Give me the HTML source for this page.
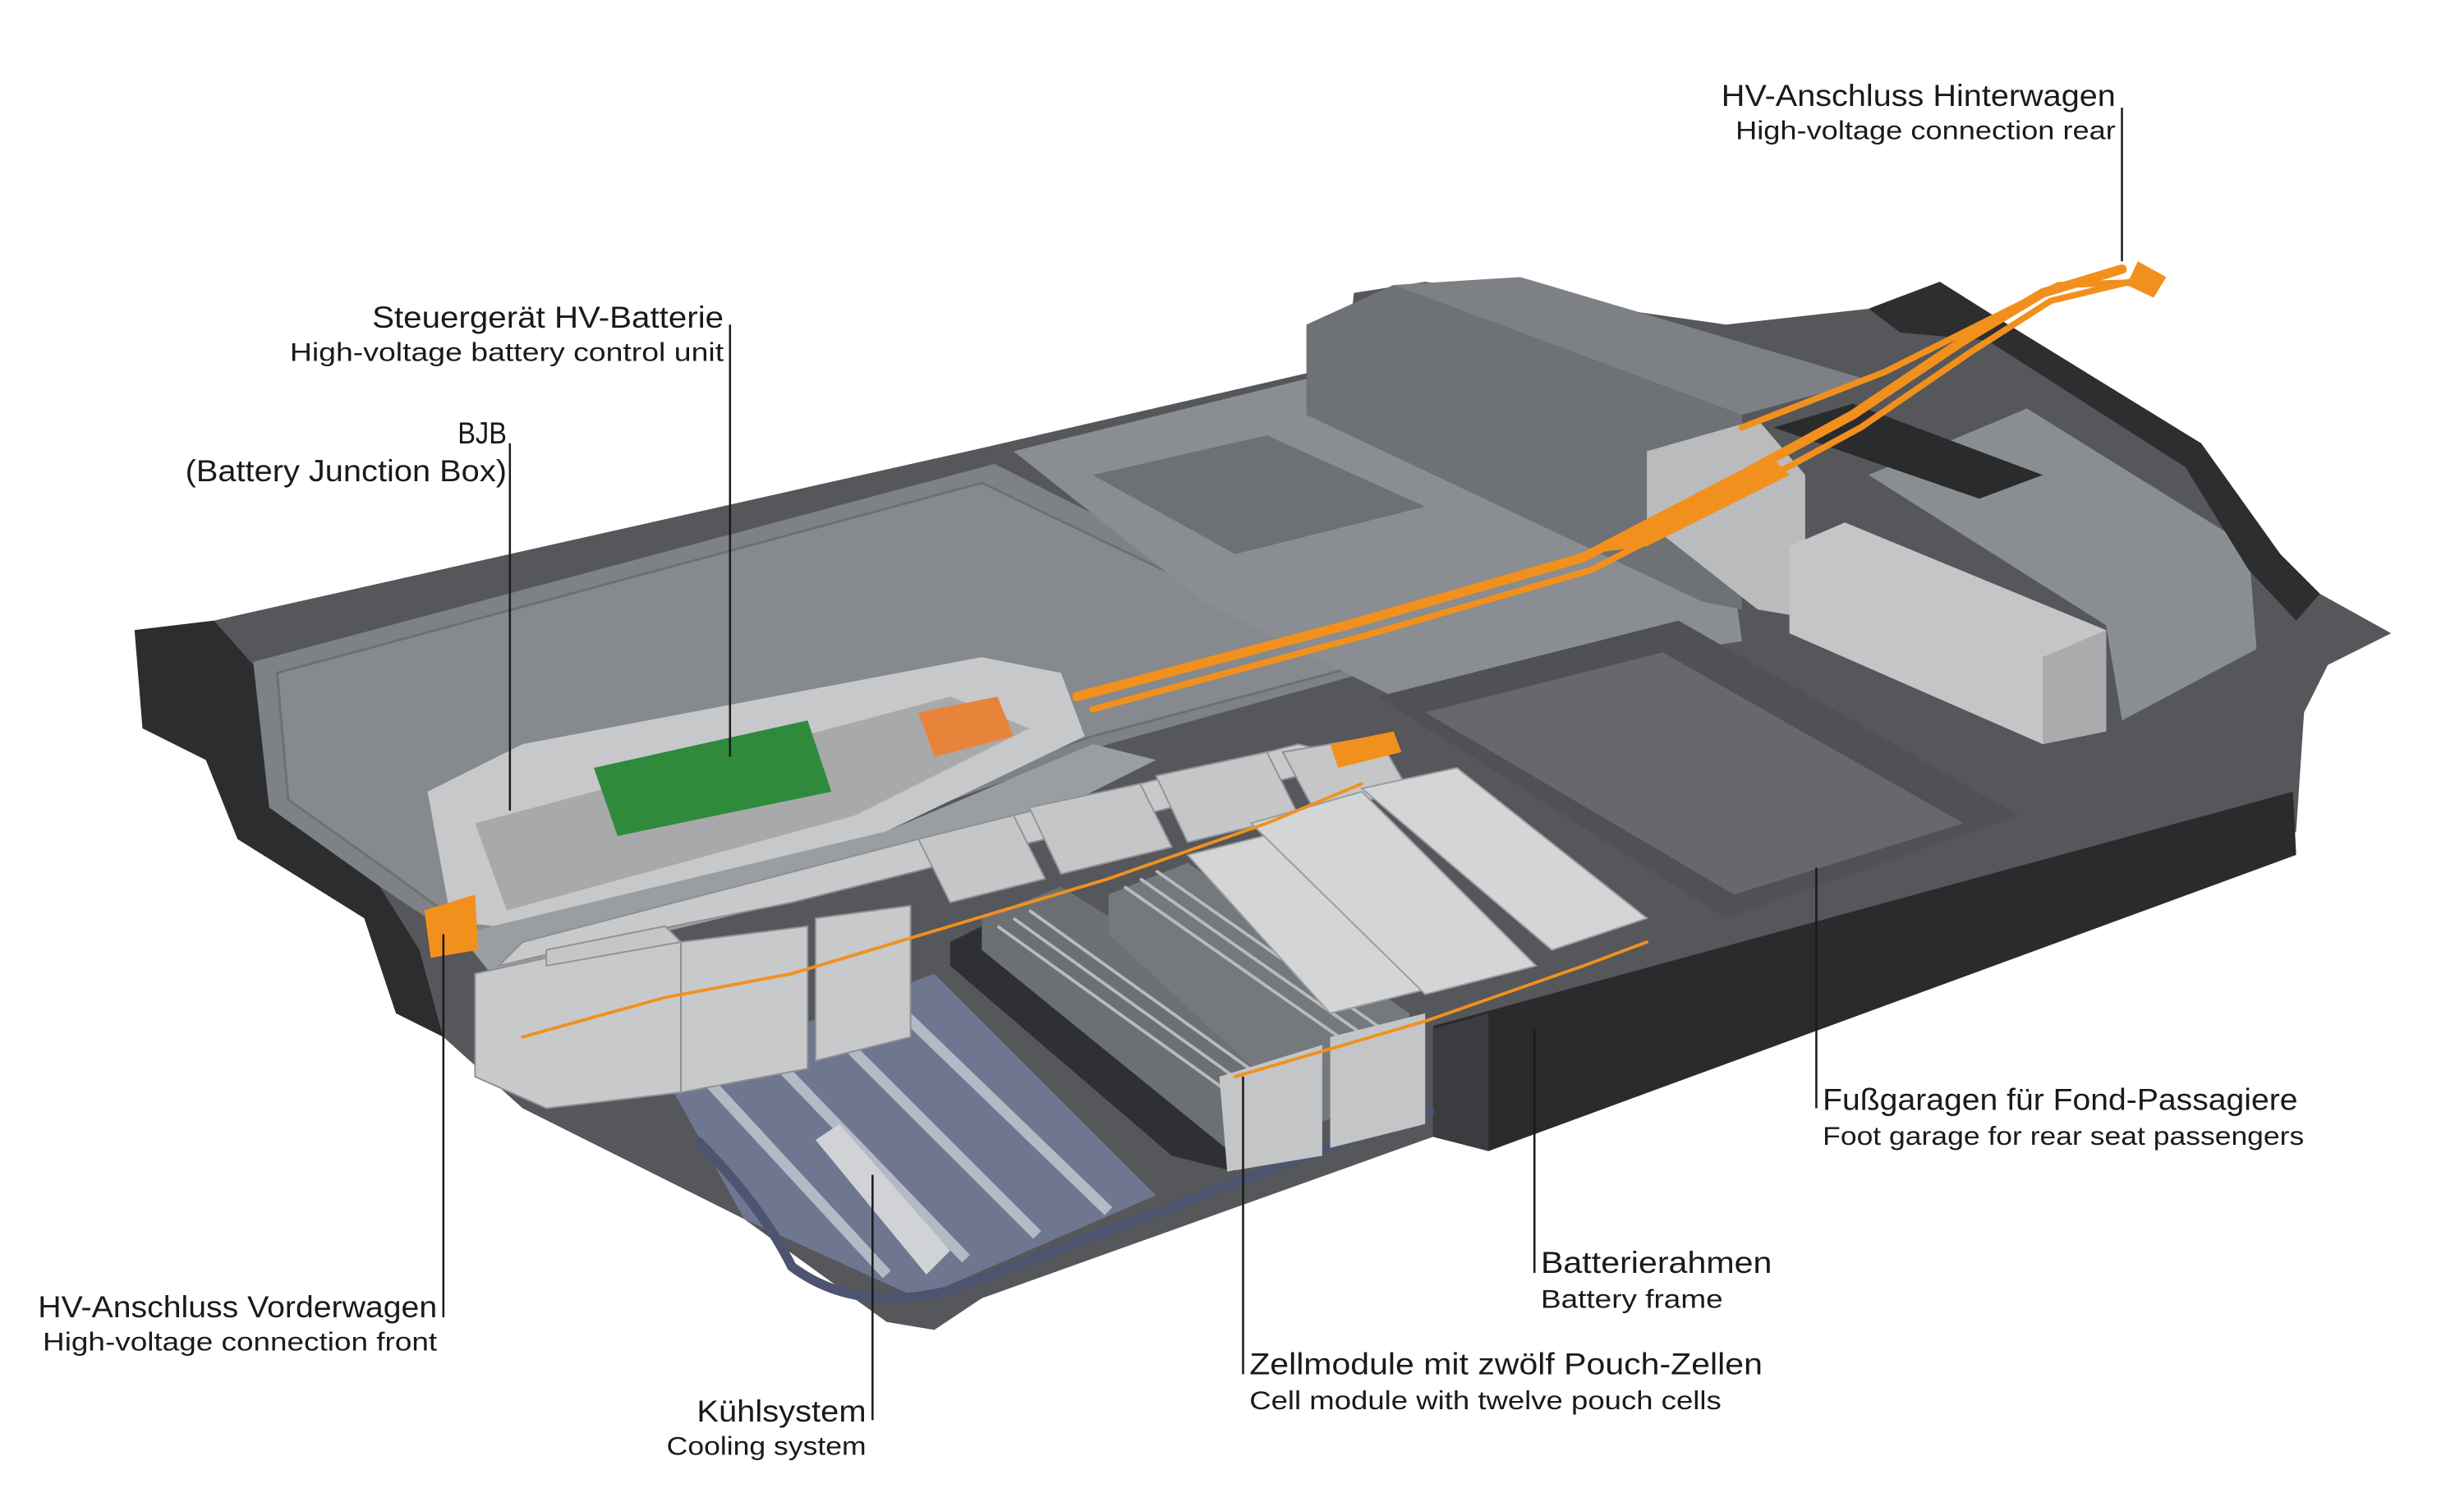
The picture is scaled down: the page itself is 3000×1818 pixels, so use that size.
<!DOCTYPE html>
<html><head><meta charset="utf-8"><style>
html,body{margin:0;padding:0;background:#fff;}
svg{display:block;}
text{font-family:"Liberation Sans",sans-serif;fill:#1a1a1a;}
.de{font-size:19px;}
.en{font-size:16.5px;}
</style></head><body>
<svg width="3000" height="1818" viewBox="0 0 1556 943" preserveAspectRatio="none" xmlns="http://www.w3.org/2000/svg">
<rect width="1556" height="943" fill="#fff"/>
<!-- outer tray -->
<path d="M85,398 L135,392 L620,283 L850,230 L855,185 L900,178 L1090,205 L1180,195 L1225,178 L1260,200 L1390,280 L1440,350 L1465,375 L1510,400 L1470,420 L1455,450 L1450,525 L1440,540 L940,727 L905,718 L620,820 L590,840 L560,835 L470,770 L330,700 L280,655 L265,600 L240,560 L160,520 L130,480 L90,460 Z" fill="#55575a"/>
<!-- left end frame -->
<path d="M85,398 L135,392 L160,420 L170,510 L240,560 L265,600 L280,655 L250,640 L230,580 L150,530 L130,480 L90,460 Z" fill="#2c2d2f"/>
<!-- lid plate -->
<path d="M160,418 L628,293 L880,420 L700,470 L560,520 L300,600 L240,560 L170,510 Z" fill="#7e8185"/>
<path d="M175,425 L620,305 L860,420 L690,465 L550,512 L300,590 L248,552 L182,505 Z" fill="#86898d" stroke="#6c6f73" stroke-width="1.5"/>
<!-- middle tunnel region -->
<path d="M640,285 L830,238 L1090,330 L1100,405 L880,440 L760,380 Z" fill="#8a8d91"/>
<path d="M690,300 L800,275 L900,320 L780,350 Z" fill="#6d7074"/>
<!-- foot garage -->
<path d="M870,440 L1060,392 L1275,515 L1090,580 Z" fill="#4f5154"/>
<path d="M900,450 L1050,412 L1240,520 L1095,565 Z" fill="#66686b"/>
<!-- rear raised tunnel -->
<path d="M825,205 L880,180 L1100,262 L1100,385 L1075,380 L825,262 Z" fill="#6e7175"/>
<path d="M880,180 L1100,262 L1180,240 L960,175 Z" fill="#7d8084"/>
<!-- rear right region -->
<path d="M1180,300 L1280,258 L1420,345 L1425,410 L1340,455 L1330,395 Z" fill="#8b8e91"/>
<!-- rear frame -->
<path d="M1180,195 L1225,178 L1260,200 L1390,280 L1440,350 L1465,375 L1450,392 L1420,360 L1380,295 L1255,215 L1200,210 Z" fill="#2d2e30"/>
<!-- rear modules -->
<path d="M1040,285 L1110,265 L1140,300 L1140,390 L1110,385 L1040,330 Z" fill="#b9bbbd"/>
<path d="M1130,345 L1165,330 L1330,398 L1330,462 L1290,470 L1130,400 Z" fill="#c3c5c7"/>
<path d="M1290,415 L1330,398 L1330,462 L1290,470 Z" fill="#a9abad"/>
<path d="M1120,270 L1170,255 L1290,300 L1250,315 Z" fill="#2a2b2d"/>
<!-- front frame band -->
<path d="M905,648 L1448,500 L1450,540 L940,727 L905,718 Z" fill="#2a2b2d"/>
<path d="M905,650 L940,640 L940,727 L905,718 Z" fill="#3b3c3f"/>
<!-- cooling floor -->
<path d="M420,680 L590,615 L730,755 L580,820 L470,770 Z" fill="#6f7690"/>
<g stroke="#b4b9c6" stroke-width="7">
<line x1="440" y1="675" x2="560" y2="805"/>
<line x1="480" y1="660" x2="610" y2="795"/>
<line x1="520" y1="645" x2="655" y2="780"/>
<line x1="560" y1="630" x2="700" y2="765"/>
</g>
<path d="M530,710 L600,790 L585,805 L515,720 Z" fill="#d0d2d6"/>
<path d="M440,720 Q480,760 500,800 Q540,830 600,815 L905,700" stroke="#4d5470" stroke-width="6" fill="none"/>
<!-- control unit -->
<path d="M270,500 L330,470 L620,415 L670,425 L685,465 L560,525 L340,588 L285,582 Z" fill="#c6c8ca"/>
<path d="M300,520 L600,440 L650,460 L540,515 L320,575 Z" fill="#a7a9ab"/>
<path d="M375,485 L510,455 L525,500 L390,528 Z" fill="#2f8a3c"/>
<path d="M580,450 L630,440 L640,465 L590,478 Z" fill="#e8843a"/>
<path d="M290,590 L560,525 L690,470 L730,480 L600,545 L310,615 Z" fill="#9b9ea1"/>
<!-- front modules row -->
<g fill="#c7c9cb" stroke="#8d8f92" stroke-width="1">
<path d="M300,615 L345,605 L430,595 L430,690 L345,700 L300,680 Z"/>
<path d="M430,595 L510,585 L510,675 L430,690 Z"/>
<path d="M515,580 L575,572 L575,655 L515,670 Z"/>
<path d="M315,610 L400,590 L450,580 L500,570 L560,555 L620,540 L680,525 L740,510 L800,495 L860,480 L820,470 L580,530 L330,595 Z"/>
</g>
<g fill="#c4c6c8" stroke="#909295" stroke-width="1">
<path d="M345,600 L420,585 L430,595 L345,610 Z"/>
<path d="M580,530 L640,515 L660,555 L600,570 Z"/>
<path d="M650,510 L720,495 L740,535 L670,552 Z"/>
<path d="M730,490 L800,475 L820,515 L750,532 Z"/>
<path d="M810,475 L870,465 L890,500 L830,512 Z"/>
</g>
<!-- open cell modules -->
<path d="M600,595 L650,570 L780,710 L780,740 L740,730 L600,610 Z" fill="#2f3033"/>
<path d="M620,580 L670,560 L830,660 L830,715 L780,730 L620,600 Z" fill="#6d7073"/>
<path d="M700,565 L750,545 L890,640 L890,690 L830,710 L700,590 Z" fill="#76797c"/>
<g stroke="#b8babc" stroke-width="2">
<line x1="630" y1="585" x2="790" y2="700"/><line x1="640" y1="580" x2="800" y2="695"/>
<line x1="650" y1="575" x2="810" y2="690"/><line x1="710" y1="560" x2="860" y2="665"/>
<line x1="720" y1="555" x2="870" y2="660"/><line x1="730" y1="550" x2="880" y2="655"/>
</g>
<path d="M770,680 L835,660 L835,730 L775,740 Z" fill="#c3c5c7"/>
<path d="M840,655 L900,640 L900,710 L840,725 Z" fill="#c3c5c7"/>
<!-- right modules tops -->
<g fill="#d3d5d6" stroke="#9a9c9e" stroke-width="1">
<path d="M750,540 L830,520 L920,620 L840,640 Z"/>
<path d="M790,520 L860,500 L970,610 L900,628 Z"/>
<path d="M860,498 L920,485 L1040,580 L980,600 Z"/>
</g>
<!-- orange cables -->
<g stroke="#f2901e" fill="none" stroke-linecap="round">
<path d="M680,440 L850,395 L1000,352 L1100,300 L1170,262 L1240,215 L1290,185 L1340,170" stroke-width="6"/>
<path d="M690,448 L860,402 L1005,360 L1105,308 L1175,270 L1245,222 L1295,190 L1345,178" stroke-width="4"/>
<path d="M1100,270 L1190,235 L1300,180 L1360,178" stroke-width="4"/>
<path d="M330,655 L420,630 L500,615 L600,585 L700,555 L800,520 L860,495" stroke-width="2"/>
<path d="M780,680 L900,645 L1000,610 L1040,595" stroke-width="2"/>
</g>
<path d="M1000,350 L1040,345 L1130,300 L1120,290 Z" fill="#f2901e"/>
<path d="M268,575 L300,565 L302,600 L272,605 Z" fill="#f2901e"/>
<path d="M840,470 L880,462 L885,475 L845,485 Z" fill="#f2901e"/>
<path d="M1350,165 L1368,175 L1360,188 L1343,180 Z" fill="#f2901e"/>
<!-- leader lines -->
<g stroke="#1a1a1a" stroke-width="1.3">
<line x1="1340" y1="68" x2="1340" y2="165"/>
<line x1="461" y1="205" x2="461" y2="478"/>
<line x1="322" y1="280" x2="322" y2="512"/>
<line x1="280" y1="832" x2="280" y2="590"/>
<line x1="551" y1="897" x2="551" y2="742"/>
<line x1="785" y1="868" x2="785" y2="680"/>
<line x1="969" y1="804" x2="969" y2="650"/>
<line x1="1147" y1="700" x2="1147" y2="548"/>
</g>
<!-- labels -->
<text class="de" x="1336" y="67" text-anchor="end" textLength="249" lengthAdjust="spacingAndGlyphs">HV-Anschluss Hinterwagen</text>
<text class="en" x="1336" y="88" text-anchor="end" textLength="240" lengthAdjust="spacingAndGlyphs">High-voltage connection rear</text>
<text class="de" x="457" y="207" text-anchor="end" textLength="222" lengthAdjust="spacingAndGlyphs">Steuergerät HV-Batterie</text>
<text class="en" x="457" y="228" text-anchor="end" textLength="274" lengthAdjust="spacingAndGlyphs">High-voltage battery control unit</text>
<text class="de" x="320" y="280" text-anchor="end" textLength="31" lengthAdjust="spacingAndGlyphs">BJB</text>
<text class="de" x="320" y="304" text-anchor="end" textLength="203" lengthAdjust="spacingAndGlyphs">(Battery Junction Box)</text>
<text class="de" x="276" y="832" text-anchor="end" textLength="252" lengthAdjust="spacingAndGlyphs">HV-Anschluss Vorderwagen</text>
<text class="en" x="276" y="853" text-anchor="end" textLength="249" lengthAdjust="spacingAndGlyphs">High-voltage connection front</text>
<text class="de" x="547" y="898" text-anchor="end" textLength="107" lengthAdjust="spacingAndGlyphs">Kühlsystem</text>
<text class="en" x="547" y="919" text-anchor="end" textLength="126" lengthAdjust="spacingAndGlyphs">Cooling system</text>
<text class="de" x="789" y="868" textLength="324" lengthAdjust="spacingAndGlyphs">Zellmodule mit zwölf Pouch-Zellen</text>
<text class="en" x="789" y="890" textLength="298" lengthAdjust="spacingAndGlyphs">Cell module with twelve pouch cells</text>
<text class="de" x="973" y="804" textLength="146" lengthAdjust="spacingAndGlyphs">Batterierahmen</text>
<text class="en" x="973" y="826" textLength="115" lengthAdjust="spacingAndGlyphs">Battery frame</text>
<text class="de" x="1151" y="701" textLength="300" lengthAdjust="spacingAndGlyphs">Fußgaragen für Fond-Passagiere</text>
<text class="en" x="1151" y="723" textLength="304" lengthAdjust="spacingAndGlyphs">Foot garage for rear seat passengers</text>
</svg>
</body></html>
